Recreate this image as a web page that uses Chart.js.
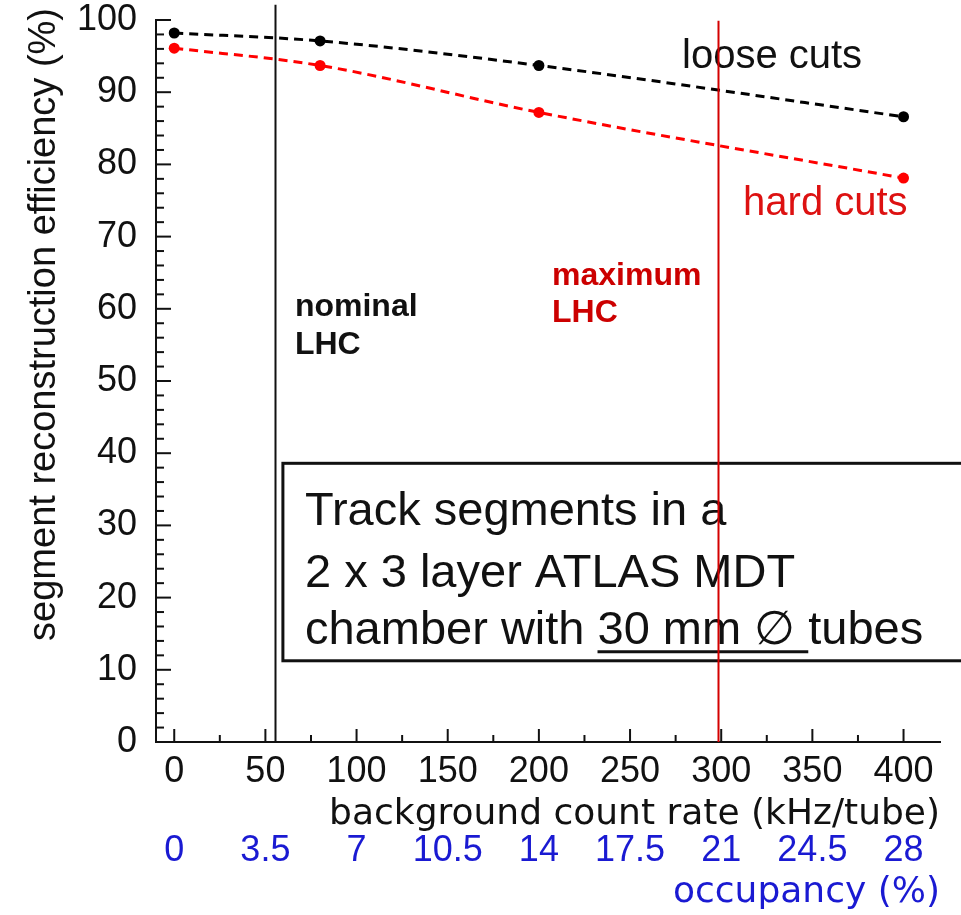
<!DOCTYPE html>
<html>
<head>
<meta charset="utf-8">
<script src="https://cdn.jsdelivr.net/npm/chart.js@4.4.1/dist/chart.umd.min.js"></script>
<style>
  html, body { margin: 0; padding: 0; background: #fff; }
</style>
</head>
<body>
<canvas id="chart" width="961" height="915"></canvas>
<script>
// background count rate (kHz/tube) of each measurement
const rates = [0, 80, 200, 400];
// segment reconstruction efficiency (%)
const looseCuts = [98.2, 97.1, 93.7, 86.6];
const hardCuts = [96.1, 93.7, 87.2, 78.1];

const rateTicks = [0, 50, 100, 150, 200, 250, 300, 350, 400];
const occupancyTicks = [0, 3.5, 7, 10.5, 14, 17.5, 21, 24.5, 28];
const efficiencyTicks = [0, 10, 20, 30, 40, 50, 60, 70, 80, 90, 100];

// nominal / maximum LHC background rate (kHz/tube)
const lhcRates = [55, 298];
const lhcColors = ['#111111', '#d40000'];
const lhcLineTops = [102.1, 99.9];

const OCC_PER_RATE = 0.07;
const INK = '#111111';
const BLUE = '#1a1ad2';
const SANS = '"Liberation Sans", Arial, sans-serif';
const WIDE = '"DejaVu Sans", sans-serif';

const toPoints = ys => rates.map((r, i) => ({ x: r, y: ys[i] }));

const decorations = {
  id: 'decorations',
  afterDatasetsDraw(chart) {
    const { ctx, scales: { x, y } } = chart;
    const px = v => x.getPixelForValue(v);
    const py = v => y.getPixelForValue(v);
    const seg = (x0, y0, x1, y1) => { ctx.beginPath(); ctx.moveTo(x0, y0); ctx.lineTo(x1, y1); ctx.stroke(); };

    ctx.save();

    // tick marks pointing into the plot
    ctx.strokeStyle = INK;
    ctx.lineWidth = 2;
    for (let v = 0; v <= 400; v += 25) {
      const len = v % 50 === 0 ? 13 : 7;
      seg(px(v), y.bottom, px(v), y.bottom - len);
    }
    for (let v = 0; v <= 100; v += 2) {
      const len = v % 10 === 0 ? 15 : 8;
      seg(x.left, py(v), x.left + len, py(v));
    }

    // y axis title, drawn rotated and anchored to the top
    ctx.save();
    ctx.translate(55, 8);
    ctx.rotate(-Math.PI / 2);
    ctx.font = '38px ' + SANS;
    ctx.fillStyle = INK;
    ctx.textAlign = 'right';
    ctx.textBaseline = 'alphabetic';
    ctx.fillText('segment reconstruction efficiency (%)', 0, 0);
    ctx.restore();

    // info box
    const bx = px(59.6), by = py(38.6), bb = py(11.25);
    ctx.fillStyle = '#ffffff';
    ctx.fillRect(bx, by, chart.width - bx + 10, bb - by);
    ctx.strokeStyle = INK;
    ctx.lineWidth = 3;
    ctx.strokeRect(bx, by, chart.width - bx + 10, bb - by);

    ctx.fillStyle = INK;
    ctx.font = '47px ' + SANS;
    ctx.textAlign = 'left';
    ctx.textBaseline = 'alphabetic';
    const tx = px(71.7);
    ctx.fillText('Track segments in a', tx, py(30.06));
    ctx.fillText('2 x 3 layer ATLAS MDT', tx, py(21.5));
    const lastY = py(13.6);
    const head = 'chamber with ', mid = '30 mm \u2205 ';
    ctx.fillText(head + mid + 'tubes', tx, lastY);
    const u0 = tx + ctx.measureText(head).width;
    const u1 = tx + ctx.measureText(head + mid).width;
    ctx.lineWidth = 3;
    seg(u0, lastY + 8, u1, lastY + 8);

    // curve labels
    ctx.textBaseline = 'middle';
    ctx.font = '40px ' + SANS;
    ctx.fillStyle = INK;
    ctx.fillText('loose cuts', px(278.5), py(94.9));
    ctx.fillStyle = '#dd1111';
    ctx.fillText('hard cuts', px(312), py(74.5));

    ctx.font = 'bold 32px ' + SANS;
    ctx.fillStyle = INK;
    ctx.fillText('nominal', px(66.2), py(60.2));
    ctx.fillText('LHC', px(66.2), py(55.0));
    ctx.fillStyle = '#cc0000';
    ctx.fillText('maximum', px(207.2), py(64.5));
    ctx.fillText('LHC', px(207.2), py(59.4));

    // LHC rate markers
    ctx.lineWidth = 2;
    lhcRates.forEach((r, i) => {
      ctx.strokeStyle = lhcColors[i];
      const xx = Math.round(px(r)) + 0.5;
      seg(xx, py(0), xx, py(lhcLineTops[i]));
    });

    ctx.restore();
  }
};

new Chart(document.getElementById('chart'), {
  type: 'line',
  data: {
    datasets: [
      {
        label: 'loose cuts',
        data: toPoints(looseCuts),
        borderColor: '#000000',
        backgroundColor: '#000000',
        borderWidth: 3,
        borderDash: [9, 6],
        pointRadius: 5.5,
        pointBorderWidth: 0,
        cubicInterpolationMode: 'monotone',
        xAxisID: 'x'
      },
      {
        label: 'hard cuts',
        data: toPoints(hardCuts),
        borderColor: '#ff0000',
        backgroundColor: '#ff0000',
        borderWidth: 3,
        borderDash: [9, 6],
        pointRadius: 5.5,
        pointBorderWidth: 0,
        cubicInterpolationMode: 'monotone',
        xAxisID: 'x'
      }
    ]
  },
  options: {
    responsive: false,
    animation: false,
    layout: { padding: { top: 20, right: 21, bottom: 4, left: 0 } },
    plugins: { legend: { display: false }, tooltip: { enabled: false } },
    scales: {
      x: {
        type: 'linear',
        position: 'bottom',
        min: -10,
        max: 420,
        afterBuildTicks: s => { s.ticks = rateTicks.map(v => ({ value: v })); },
        afterFit: s => { s.height = 91; },
        grid: { display: false, drawTicks: false },
        border: { display: true, color: INK, width: 2 },
        ticks: {
          padding: 12,
          color: INK,
          maxRotation: 0,
          font: { family: SANS, size: 36, lineHeight: 1 },
          callback: v => String(v)
        },
        title: {
          display: true,
          text: 'background count rate (kHz/tube)',
          align: 'end',
          color: INK,
          padding: 0,
          font: { family: WIDE, size: 36, lineHeight: 1 }
        }
      },
      x2: {
        type: 'linear',
        position: 'bottom',
        min: -10 * OCC_PER_RATE,
        max: 420 * OCC_PER_RATE,
        afterBuildTicks: s => { s.ticks = occupancyTicks.map(v => ({ value: v })); },
        afterFit: s => { s.height = 78; },
        grid: { display: false, drawTicks: false },
        border: { display: false },
        ticks: {
          padding: 0,
          color: BLUE,
          maxRotation: 0,
          font: { family: SANS, size: 36, lineHeight: 1 },
          callback: v => String(v)
        },
        title: {
          display: true,
          text: 'occupancy (%)',
          align: 'end',
          color: BLUE,
          padding: 0,
          font: { family: WIDE, size: 36, lineHeight: 1 }
        }
      },
      y: {
        type: 'linear',
        min: 0,
        max: 100,
        afterBuildTicks: s => { s.ticks = efficiencyTicks.map(v => ({ value: v })); },
        afterFit: s => {
          s.width = 156;
          // labels at the ends may overhang; the layout padding covers them
          s.paddingTop = 0;
          s.paddingBottom = 0;
        },
        grid: { display: false, drawTicks: false },
        border: { display: true, color: INK, width: 2 },
        ticks: {
          padding: 19,
          color: INK,
          font: { family: SANS, size: 36, lineHeight: 1 },
          callback: v => String(v)
        }
      }
    }
  },
  plugins: [decorations]
});
</script>
</body>
</html>
